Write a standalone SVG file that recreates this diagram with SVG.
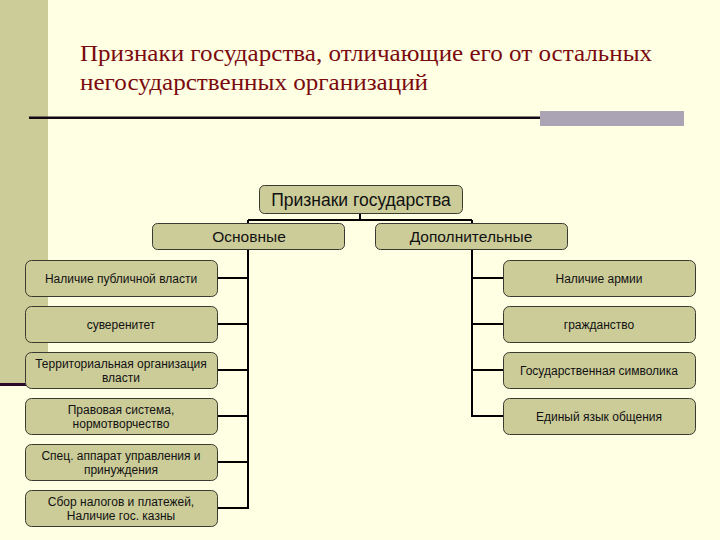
<svg xmlns="http://www.w3.org/2000/svg" width="720" height="540" viewBox="0 0 720 540">
<style>
.box{fill:#CCCC99;stroke:#3a3a30;stroke-width:1}
.t{font-family:"Liberation Sans",Arial,sans-serif;fill:#111;text-anchor:middle}
.s{font-size:12px}
.m{font-size:15.5px}
.title{font-family:"Liberation Serif","Times New Roman",serif;font-size:24px;fill:#7A0A0F}
.c{stroke:#000;stroke-width:2;fill:none}
</style>
<rect x="0" y="0" width="720" height="540" fill="#FFFFE3"/>
<rect x="0" y="0" width="48" height="383" fill="#CCCC99"/>
<rect x="0" y="383" width="26" height="3" fill="#2A0A2A"/>
<g id="title">
<text class="title" x="80" y="61" textLength="572" lengthAdjust="spacingAndGlyphs">Признаки государства, отличающие его от остальных</text>
<text class="title" x="80" y="90" textLength="348" lengthAdjust="spacingAndGlyphs">негосударственных организаций</text>
</g>
<rect x="29" y="116.5" width="512" height="2.5" fill="#140814"/>
<rect x="540" y="111" width="144" height="15" fill="#ABA4B4"/>
<g id="connectors">
<path class="c" d="M360 213V220M248 220H472M248 220V223M472 220V223"/>
<path class="c" d="M248 249V509M217 278H248M217 324H248M217 370H248M217 416H248M217 462H248M217 508H248"/>
<path class="c" d="M472 249V417M472 278H503M472 324H503M472 370H503M472 416H503"/>
</g>
<g id="root"><rect class="box" x="259.5" y="185.5" width="203" height="28" rx="5"/><text class="t" x="361" y="205.5" font-size="17.5">Признаки государства</text></g>
<g id="main"><rect class="box" x="152.5" y="223.5" width="192" height="26" rx="5"/><text class="t m" x="249" y="242">Основные</text></g>
<g id="extra"><rect class="box" x="375.5" y="223.5" width="192" height="26" rx="5"/><text class="t m" x="471" y="242">Дополнительные</text></g>
<g id="l1"><rect class="box" x="25.5" y="260.5" width="192" height="36" rx="6"/><text class="t s" x="121" y="282.5">Наличие публичной власти</text></g>
<g id="l2"><rect class="box" x="25.5" y="306.5" width="192" height="36" rx="6"/><text class="t s" x="121" y="328.5">суверенитет</text></g>
<g id="l3"><rect class="box" x="25.5" y="352.5" width="192" height="36" rx="6"/><text class="t s" x="121" y="368">Территориальная организация</text><text class="t s" x="121" y="382">власти</text></g>
<g id="l4"><rect class="box" x="25.5" y="398.5" width="192" height="36" rx="6"/><text class="t s" x="121" y="414">Правовая система,</text><text class="t s" x="121" y="428">нормотворчество</text></g>
<g id="l5"><rect class="box" x="25.5" y="444.5" width="192" height="36" rx="6"/><text class="t s" x="121" y="460">Спец. аппарат управления и</text><text class="t s" x="121" y="474">принуждения</text></g>
<g id="l6"><rect class="box" x="25.5" y="490.5" width="192" height="36" rx="6"/><text class="t s" x="121" y="506">Сбор налогов и платежей,</text><text class="t s" x="121" y="520">Наличие гос. казны</text></g>
<g id="r1"><rect class="box" x="503.5" y="260.5" width="192" height="36" rx="6"/><text class="t s" x="599" y="282.5">Наличие армии</text></g>
<g id="r2"><rect class="box" x="503.5" y="306.5" width="192" height="36" rx="6"/><text class="t s" x="599" y="328.5">гражданство</text></g>
<g id="r3"><rect class="box" x="503.5" y="352.5" width="192" height="36" rx="6"/><text class="t s" x="599" y="374.5">Государственная символика</text></g>
<g id="r4"><rect class="box" x="503.5" y="398.5" width="192" height="36" rx="6"/><text class="t s" x="599" y="420.5">Единый язык общения</text></g>
</svg>
